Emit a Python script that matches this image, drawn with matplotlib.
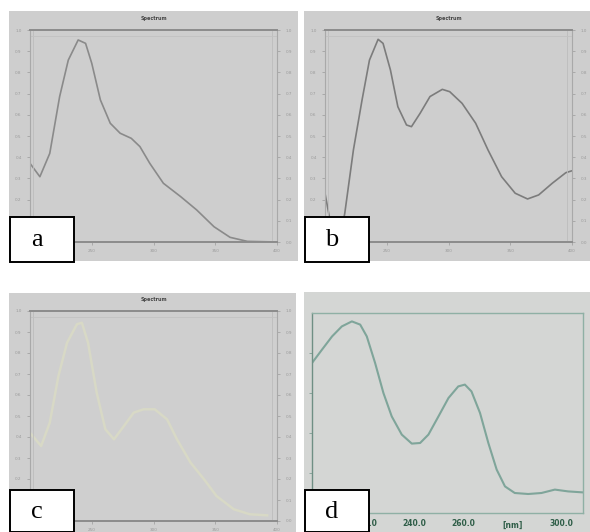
"""
Four UV absorption spectra (a-d) laid out as a 2x2 figure, recreated from a scanned page.
"""
#%% Import libraries ###########################################################
import matplotlib
matplotlib.use('Agg')
import matplotlib.pyplot as plt
from matplotlib.patches import Rectangle

#%% Data #######################################################################
# panel a
a_wl = [200, 208, 216, 224, 231, 239, 245, 250, 257, 265, 273, 282, 289, 297,
        308, 322, 335, 349, 362, 376, 400]
a_abs = [0.371, 0.308, 0.418, 0.686, 0.858, 0.953, 0.937, 0.843, 0.670, 0.560,
         0.513, 0.489, 0.450, 0.371, 0.277, 0.214, 0.151, 0.072, 0.022, 0.003, 0.0]
# panel b
b_wl = [200, 205, 211, 216, 223, 230, 236, 243, 247, 253, 259, 266, 270, 277,
        285, 295, 301, 311, 322, 332, 343, 354, 364, 373, 384, 395, 400]
b_abs = [0.230, 0.072, -0.02, 0.135, 0.434, 0.670, 0.858, 0.956, 0.937, 0.811,
         0.638, 0.552, 0.544, 0.607, 0.686, 0.720, 0.709, 0.654, 0.560, 0.434,
         0.308, 0.230, 0.203, 0.222, 0.277, 0.327, 0.336]
# panel c
c_wl = [200, 209, 216, 223, 230, 238, 242, 247, 254, 261, 268, 276, 284, 292,
        301, 311, 319, 330, 341, 351, 365, 378, 392]
c_abs = [0.42, 0.357, 0.468, 0.690, 0.849, 0.937, 0.944, 0.849, 0.611, 0.437,
         0.389, 0.452, 0.516, 0.532, 0.532, 0.484, 0.389, 0.278, 0.198, 0.119,
         0.056, 0.032, 0.027]
# panel d
d_wl = [198.2, 202.3, 206.4, 210.4, 214.5, 217.9, 220.6, 224.0, 227.4, 230.8,
        234.9, 239.0, 242.4, 245.8, 249.9, 254.0, 258.0, 260.7, 263.4, 266.9,
        270.3, 273.7, 277.1, 281.1, 286.6, 292.0, 297.5, 302.9, 309.0]
d_abs = [0.75, 0.817, 0.883, 0.933, 0.958, 0.942, 0.883, 0.75, 0.6, 0.483,
         0.392, 0.347, 0.35, 0.392, 0.483, 0.575, 0.633, 0.642, 0.608, 0.5,
         0.35, 0.217, 0.133, 0.1, 0.095, 0.1, 0.117, 0.108, 0.103]

abc_xticks = [250, 300, 350, 400]
abc_yticks = [0.0, 0.1, 0.2, 0.3, 0.4, 0.5, 0.6, 0.7, 0.8, 0.9, 1.0]
d_xticks = [200, 220, 240, 260, 300]
d_xlabels = ['200.0', '220.0', '240.0', '260.0', '300.0']

W, H = 590, 532

#%% Helpers ####################################################################
def px_rect(x0, y0, x1, y1):
    """pixel box (top-left origin) -> figure fraction [l, b, w, h]"""
    return [x0 / W, (H - y1) / H, (x1 - x0) / W, (y1 - y0) / H]


def background(fig, x0, y0, x1, y1, color):
    bg = fig.add_axes(px_rect(x0, y0, x1, y1), zorder=-5)
    bg.set_facecolor(color)
    bg.set_xticks([])
    bg.set_yticks([])
    for s in bg.spines.values():
        s.set_visible(False)


def letter_box(fig, x0, y0, x1, y1, letter):
    fig.patches.append(Rectangle((x0 / W, (H - y1) / H), (x1 - x0) / W, (y1 - y0) / H,
                                 transform=fig.transFigure, facecolor='white',
                                 edgecolor='black', linewidth=1.4, zorder=10))
    fig.text((x0 + 27) / W, (H - (y0 + y1) / 2 - 1) / H, letter, fontsize=19,
             family='Liberation Serif', ha='center', va='center', zorder=11)


def gray_panel(fig, rect, wl, ab, color, lw):
    """Spectrum panel in the style of a/b/c"""
    ax = fig.add_axes(px_rect(*rect))
    ax.set_facecolor('none')
    ax.plot(wl, ab, color=color, lw=lw, solid_joinstyle='round')
    ax.set_xlim(200, 400)
    ax.set_ylim(0, 1)
    ax.set_xticks(abc_xticks)
    ax.set_xticklabels([str(t) for t in abc_xticks])
    ax.set_yticks(abc_yticks)
    ax.set_yticklabels(['%.1f' % t for t in abc_yticks])
    ax.tick_params(axis='both', labelsize=3, colors='#9a9a9a', length=2, width=0.5,
                   pad=4, labelright=True, right=True)
    ax.tick_params(axis='x', pad=3)
    for s in ['left', 'right']:
        ax.spines[s].set_color('#a9a9a9')
        ax.spines[s].set_linewidth(0.8)
    for s in ['top', 'bottom']:
        ax.spines[s].set_color('#8c8c8c')
        ax.spines[s].set_linewidth(1.4)
    # faint inner guide lines
    ax.axvline(202.5, color='#bdbdbd', lw=0.6)
    ax.axvline(396, color='#bdbdbd', lw=0.6)
    ax.axhline(0.97, color='#c2c2c2', lw=0.6)
    ax.set_title('Spectrum', fontsize=3.5, color='#444444', fontweight='bold', pad=7)
    return ax

#%% Main #######################################################################
def main():
    fig = plt.figure(figsize=(W / 100, H / 100), dpi=100)
    fig.patch.set_facecolor('white')

    ##### Backgrounds #####
    background(fig, 9, 11, 298, 261, '#cecece')
    background(fig, 304, 11, 590, 261, '#cecece')
    background(fig, 9, 293, 296, 532, '#cfcfcf')
    background(fig, 304, 292, 590, 532, '#d4d6d4')

    ##### Panels a, b, c #####
    gray_panel(fig, (30, 30, 277, 242), a_wl, a_abs, '#8a8a8a', 1.2)
    gray_panel(fig, (325, 30, 572, 242), b_wl, b_abs, '#7c7c7c', 1.2)
    gray_panel(fig, (30, 311, 277, 521), c_wl, c_abs, '#d8d9c6', 1.8)

    ##### Panel d #####
    ax = fig.add_axes(px_rect(312, 313, 583, 513))
    ax.set_facecolor('none')
    ax.plot(d_wl, d_abs, color='#7fa59a', lw=1.5)
    ax.set_xlim(198.2, 309)
    ax.set_ylim(0, 1)
    ax.set_xticks(d_xticks)
    ax.set_xticklabels(d_xlabels)
    ax.set_yticks([0.2, 0.4, 0.6, 0.8])
    ax.set_yticklabels([])
    ax.tick_params(axis='x', labelsize=5.5, colors='#2f5e48', length=0, pad=4)
    ax.tick_params(axis='y', colors='#7f9f94', length=2, width=0.6)
    for lab in ax.get_xticklabels():
        lab.set_fontweight('bold')
    ax.text(280, -0.04, '[nm]', fontsize=5.5, fontweight='bold', color='#2f5e48',
            ha='center', va='top')
    for s in ax.spines.values():
        s.set_color('#8fb0a5')
        s.set_linewidth(1.0)
    ax.spines['left'].set_color('#6f8f84')

    ##### Letter boxes #####
    letter_box(fig, 10, 217, 74, 262, 'a')
    letter_box(fig, 305, 217, 369, 262, 'b')
    letter_box(fig, 10, 490, 74, 531.5, 'c')
    letter_box(fig, 305, 490, 369, 531.5, 'd')

    fig.savefig('out.png', dpi=100, facecolor='white')

#%% Run main ###################################################################
if __name__ == '__main__':
    main()
